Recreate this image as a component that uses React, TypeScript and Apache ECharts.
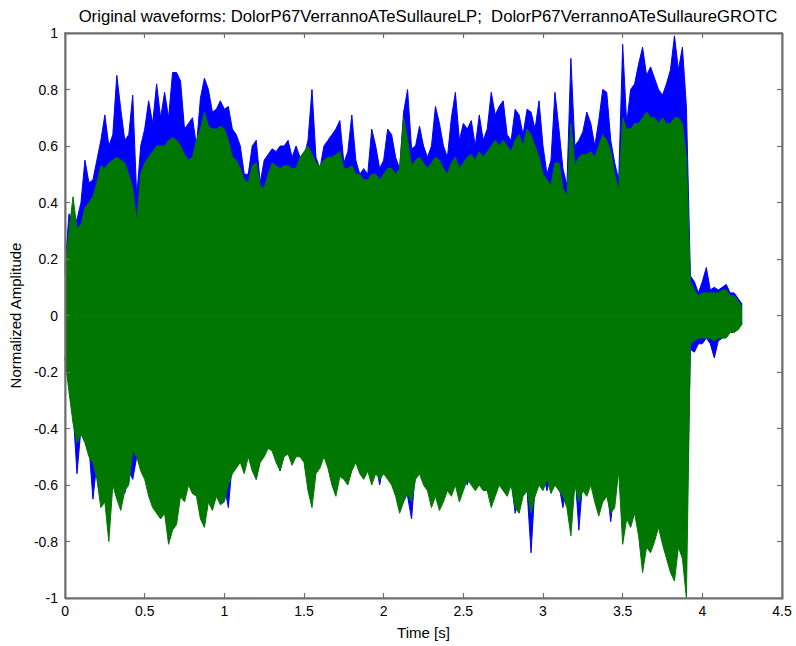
import React, { useEffect, useRef } from "react";
import * as echarts from "echarts";

const TITLE =
  "Original waveforms: DolorP67VerrannoATeSullaureLP;  DolorP67VerrannoATeSullaureGROTC";
const X_NAME = "Time [s]";
const Y_NAME = "Normalized Amplitude";

// sample spacing of the envelope readings (seconds)
const TIME_STEP = 0.025;
const X_MIN = 0;
const X_MAX = 4.5;
const X_INTERVAL = 0.5;
const Y_MIN = -1;
const Y_MAX = 1;
const Y_INTERVAL = 0.2;

const BLUE = "#0000ff";
const GREEN = "#007700";
const FRAME = "#6e6e6e";

// Upper envelope of waveform 1 (LP, blue)
const blueUpper = [
  0.17, 0.36, 0.33, 0.34, 0.4, 0.55, 0.47, 0.48, 0.55, 0.62,
  0.71, 0.6, 0.64, 0.85, 0.73, 0.62, 0.64, 0.78, 0.42, 0.6,
  0.66, 0.76, 0.68, 0.82, 0.7, 0.79, 0.7, 0.86, 0.86, 0.83,
  0.66, 0.68, 0.7, 0.6, 0.77, 0.84, 0.8, 0.72, 0.73, 0.76,
  0.73, 0.74, 0.66, 0.64, 0.6, 0.5, 0.5, 0.6, 0.62, 0.47,
  0.55, 0.57, 0.59, 0.58, 0.6, 0.6, 0.62, 0.56, 0.6,
  0.56, 0.56, 0.62, 0.8, 0.56, 0.52, 0.6, 0.62, 0.64, 0.66,
  0.69, 0.54, 0.58, 0.71, 0.55, 0.5, 0.52, 0.5, 0.66, 0.6,
  0.52, 0.55, 0.66, 0.64, 0.56, 0.52, 0.72, 0.8, 0.59, 0.6,
  0.67, 0.6, 0.56, 0.6, 0.74, 0.68, 0.6, 0.56, 0.7, 0.79,
  0.62, 0.68, 0.66, 0.69, 0.6, 0.71, 0.62, 0.66, 0.79, 0.71,
  0.74, 0.76, 0.64, 0.62, 0.73, 0.71, 0.64, 0.73, 0.72, 0.66,
  0.76, 0.6, 0.5, 0.55, 0.79, 0.66, 0.52, 0.46, 0.91, 0.6,
  0.62, 0.65, 0.72, 0.68, 0.6, 0.69, 0.8, 0.79, 0.62, 0.54,
  0.48, 0.96, 0.68, 0.8, 0.82, 0.89, 0.95, 0.85, 0.88, 0.84,
  0.8, 0.78, 0.82, 0.87, 0.99, 0.87, 0.95, 0.74,
  0.14, 0.12, 0.08, 0.12, 0.17, 0.09, 0.1, 0.09, 0.1, 0.11, 0.08, 0.08, 0.06, 0.04,
];

// Lower envelope of waveform 1 (LP, blue)
const blueLower = [
  -0.15, -0.25, -0.33, -0.56, -0.4, -0.42, -0.46, -0.65, -0.52, -0.58,
  -0.6, -0.62, -0.55, -0.6, -0.6, -0.63, -0.55, -0.58, -0.5, -0.5,
  -0.54, -0.58, -0.6, -0.62, -0.64, -0.62, -0.66, -0.68, -0.64, -0.6,
  -0.58, -0.56, -0.63, -0.6, -0.62, -0.64, -0.6, -0.62, -0.6, -0.62,
  -0.6, -0.68, -0.52, -0.5, -0.5, -0.53, -0.48, -0.5, -0.58, -0.5,
  -0.48, -0.45, -0.45, -0.5, -0.55, -0.48, -0.47, -0.5, -0.48,
  -0.45, -0.44, -0.52, -0.55, -0.5, -0.5, -0.47, -0.5, -0.55, -0.56,
  -0.52, -0.52, -0.53, -0.5, -0.5, -0.5, -0.52, -0.5, -0.54, -0.52,
  -0.6, -0.52, -0.54, -0.56, -0.62, -0.6, -0.62, -0.64, -0.72, -0.54,
  -0.52, -0.58, -0.56, -0.6, -0.58, -0.6, -0.58, -0.56, -0.57, -0.55,
  -0.58, -0.56, -0.6, -0.54, -0.56, -0.55, -0.56, -0.55, -0.6, -0.58,
  -0.56, -0.58, -0.6, -0.58, -0.7, -0.64, -0.6, -0.62, -0.84, -0.6,
  -0.55, -0.56, -0.62, -0.56, -0.58, -0.6, -0.68, -0.6, -0.62, -0.55,
  -0.76, -0.58, -0.6, -0.56, -0.6, -0.64, -0.6, -0.6, -0.73, -0.6,
  -0.5, -0.64, -0.65, -0.72, -0.66, -0.7, -0.72, -0.7, -0.72, -0.7,
  -0.72, -0.74, -0.74, -0.76, -0.78, -0.74, -0.75, -0.8,
  -0.12, -0.13, -0.1, -0.1, -0.08, -0.1, -0.15, -0.09, -0.08, -0.07, -0.06, -0.05, -0.04, -0.03,
];

// Upper envelope of waveform 2 (GROTC, green)
const greenUpper = [
  0.15, 0.3, 0.42, 0.31, 0.32, 0.38, 0.4, 0.42, 0.47, 0.53,
  0.52, 0.54, 0.55, 0.56, 0.55, 0.54, 0.5, 0.45, 0.33, 0.5,
  0.54, 0.56, 0.58, 0.6, 0.6, 0.6, 0.62, 0.63, 0.62, 0.6,
  0.57, 0.55, 0.56, 0.62, 0.66, 0.72, 0.67, 0.66, 0.66, 0.67,
  0.66, 0.62, 0.56, 0.55, 0.52, 0.48, 0.47, 0.53, 0.54, 0.46,
  0.45, 0.5, 0.54, 0.53, 0.52, 0.53, 0.53, 0.52, 0.52,
  0.56, 0.58, 0.6, 0.57, 0.54, 0.53, 0.55, 0.56, 0.56, 0.57,
  0.58, 0.52, 0.52, 0.53, 0.5, 0.5, 0.48, 0.48, 0.5, 0.5,
  0.48, 0.5, 0.52, 0.52, 0.5, 0.52, 0.7, 0.62, 0.53, 0.55,
  0.56, 0.54, 0.52, 0.54, 0.56, 0.55, 0.52, 0.5, 0.54, 0.56,
  0.52, 0.54, 0.56, 0.57, 0.55, 0.58, 0.56, 0.58, 0.6, 0.62,
  0.6, 0.62, 0.6, 0.58, 0.62, 0.64, 0.6, 0.66, 0.64, 0.6,
  0.56, 0.5, 0.48, 0.46, 0.54, 0.54, 0.45, 0.42, 0.68, 0.53,
  0.56, 0.57, 0.57, 0.58, 0.56, 0.6, 0.64, 0.62, 0.58, 0.5,
  0.44, 0.7, 0.66, 0.66, 0.68, 0.68, 0.7, 0.72, 0.7, 0.7,
  0.68, 0.7, 0.68, 0.68, 0.7, 0.7, 0.68, 0.56,
  0.12, 0.09, 0.07, 0.08, 0.08, 0.08, 0.08, 0.08, 0.09, 0.09, 0.07, 0.07, 0.05, 0.03,
];

// Lower envelope of waveform 2 (GROTC, green)
const greenLower = [
  -0.15, -0.27, -0.38, -0.45, -0.42, -0.45, -0.5, -0.52, -0.58, -0.68,
  -0.66, -0.8, -0.6, -0.65, -0.69, -0.62, -0.6, -0.48, -0.5, -0.55,
  -0.58, -0.64, -0.68, -0.7, -0.72, -0.7, -0.81, -0.76, -0.74, -0.64,
  -0.66, -0.6, -0.63, -0.64, -0.72, -0.75, -0.66, -0.69, -0.64, -0.67,
  -0.66, -0.6, -0.56, -0.54, -0.52, -0.56, -0.5, -0.55, -0.58, -0.52,
  -0.5, -0.47, -0.48, -0.52, -0.55, -0.5, -0.49, -0.53, -0.5,
  -0.5, -0.52, -0.62, -0.68, -0.56, -0.54, -0.5, -0.54, -0.6, -0.64,
  -0.57, -0.58, -0.6, -0.55, -0.52, -0.56, -0.58, -0.55, -0.6, -0.56,
  -0.58, -0.56, -0.58, -0.6, -0.64, -0.7, -0.66, -0.63, -0.66, -0.58,
  -0.56, -0.6, -0.62, -0.68, -0.64, -0.69, -0.66, -0.62, -0.64, -0.6,
  -0.66, -0.62, -0.58, -0.6, -0.62, -0.6, -0.62, -0.62, -0.68, -0.64,
  -0.6, -0.62, -0.64, -0.6, -0.68, -0.7, -0.64, -0.62, -0.7, -0.64,
  -0.6, -0.62, -0.58, -0.63, -0.6, -0.62, -0.64, -0.68, -0.78, -0.6,
  -0.66, -0.62, -0.64, -0.6, -0.66, -0.71, -0.66, -0.64, -0.7, -0.68,
  -0.55, -0.81, -0.72, -0.75, -0.7, -0.78, -0.91, -0.82, -0.84, -0.8,
  -0.75, -0.81, -0.86, -0.91, -0.94, -0.82, -0.86, -1.0,
  -0.1, -0.09, -0.08, -0.08, -0.08, -0.08, -0.09, -0.08, -0.08, -0.08, -0.06, -0.06, -0.05, -0.03,
];

const FONT = "'Liberation Sans', Arial, Helvetica, sans-serif";

// plot-box layout (pixels)
const GRID_LEFT = 65;
const GRID_RIGHT = 14;
const GRID_TOP = 33;
const GRID_BOTTOM = 48;
const WIDTH = 796;
const HEIGHT = 646;

export default function App() {
  const ref = useRef<HTMLDivElement>(null);

  useEffect(() => {
    document.body.style.margin = "0";
    const chart = echarts.init(ref.current as HTMLDivElement, null, { renderer: "svg" });
    const time = blueUpper.map((_, i) => Math.round(i * TIME_STEP * 1000) / 1000);
    const pairs = (arr: number[]) => arr.map((v, i) => [time[i], v]);
    const band = (name: string, data: number[], color: string, z: number, axis: number) => ({
      name,
      type: "line",
      z,
      xAxisIndex: axis,
      yAxisIndex: axis,
      data: pairs(data),
      symbol: "none",
      showSymbol: false,
      silent: true,
      lineStyle: { color, width: 1 },
      itemStyle: { color },
      areaStyle: { color, opacity: 1 },
    });

    const fmt = (v: number) => String(Number(v.toFixed(1)));
    const baseAxis = (min: number, max: number, interval: number) => ({
      type: "value",
      min,
      max,
      interval,
      axisLine: { show: true, onZero: false, lineStyle: { color: FRAME, width: 1.5 } },
      axisTick: { show: true, inside: true, length: 5, lineStyle: { color: FRAME, width: 1.2 } },
      splitLine: { show: false },
      z: 10,
    });

    chart.setOption({
      animation: false,
      backgroundColor: "#ffffff",
      textStyle: { fontFamily: FONT },
      title: {
        text: TITLE,
        left: 423,
        top: 3,
        textAlign: "center",
        textStyle: { fontSize: 16.7, fontWeight: "normal", color: "#000", fontFamily: FONT },
      },
      grid: { left: GRID_LEFT, right: GRID_RIGHT, top: GRID_TOP, bottom: GRID_BOTTOM, containLabel: false },
      graphic: [
        {
          type: "rect",
          left: GRID_LEFT,
          top: GRID_TOP,
          z: 100,
          silent: true,
          shape: {
            x: 0,
            y: 0,
            width: WIDTH - GRID_LEFT - GRID_RIGHT,
            height: HEIGHT - GRID_TOP - GRID_BOTTOM,
          },
          style: { fill: "transparent", stroke: FRAME, lineWidth: 1.5 },
        },
      ],
      xAxis: [
        {
          ...baseAxis(X_MIN, X_MAX, X_INTERVAL),
          position: "bottom",
          name: X_NAME,
          nameLocation: "middle",
          nameGap: 27,
          nameTextStyle: { fontSize: 15, color: "#000", fontFamily: FONT },
          axisLabel: { fontSize: 14, color: "#000", margin: 6, formatter: fmt, fontFamily: FONT },
        },
        {
          ...baseAxis(X_MIN, X_MAX, X_INTERVAL),
          position: "top",
          axisLabel: { show: false },
        },
      ],
      yAxis: [
        {
          ...baseAxis(Y_MIN, Y_MAX, Y_INTERVAL),
          position: "left",
          name: Y_NAME,
          nameLocation: "middle",
          nameRotate: 90,
          nameGap: 40,
          nameTextStyle: { fontSize: 15, color: "#000", fontFamily: FONT },
          axisLabel: { fontSize: 14, color: "#000", margin: 7, formatter: fmt, fontFamily: FONT },
        },
        {
          ...baseAxis(Y_MIN, Y_MAX, Y_INTERVAL),
          position: "right",
          axisLabel: { show: false },
        },
      ],
      series: [
        band("LP upper", blueUpper, BLUE, 2, 0),
        band("LP lower", blueLower, BLUE, 2, 0),
        band("GROTC upper", greenUpper, GREEN, 3, 1),
        band("GROTC lower", greenLower, GREEN, 3, 1),
      ],
    });

    return () => chart.dispose();
  }, []);

  return <div ref={ref} style={{ width: WIDTH, height: HEIGHT }} />;
}
